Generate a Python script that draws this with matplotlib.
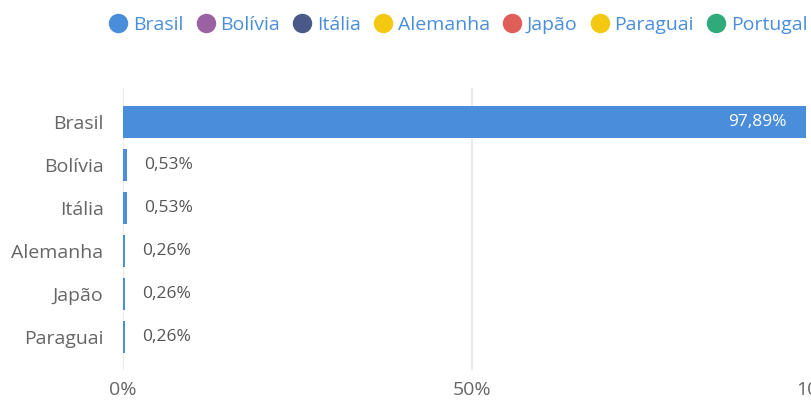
import matplotlib.pyplot as plt
from matplotlib.lines import Line2D

plt.rcParams['font.family'] = ['Open Sans', 'DejaVu Sans']

# Data
countries = ['Brasil', 'Bolívia', 'Itália', 'Alemanha', 'Japão', 'Paraguai']
shares = [97.89, 0.53, 0.53, 0.26, 0.26, 0.26]
share_labels = ['97,89%', '0,53%', '0,53%', '0,26%', '0,26%', '0,26%']

legend_names = ['Brasil', 'Bolívia', 'Itália', 'Alemanha', 'Japão', 'Paraguai', 'Portugal']
legend_colors = ['#4A8EDB', '#9B62A3', '#4A5A88', '#F2C811', '#DF5F58', '#F2C811', '#2FAB7B']

BAR = '#4A8EDB'
GREY = '#666666'

fig = plt.figure(figsize=(8.11, 4.01), dpi=100)
ax = fig.add_axes([123 / 811, 1 - 370 / 401, 698 / 811, 282 / 401])

ypos = list(range(len(countries)))
ax.barh(ypos, shares, height=0.74, color=BAR, zorder=3)
ax.set_xlim(0, 100)
ax.set_ylim(5.77, -0.79)

# Value labels
for y, v, lab in zip(ypos, shares, share_labels):
    if v > 50:
        ax.text(v - 2.8, y, lab, color='white', fontsize=12.5, va='center', ha='right', zorder=4)
    else:
        ax.text(v + 2.5, y, lab, color='#555555', fontsize=12.5, va='center', ha='left', zorder=4)

ax.set_yticks(ypos)
ax.set_yticklabels(countries, fontsize=14, color=GREY)
ax.set_xticks([0, 50, 100])
ax.set_xticklabels(['0%', '50%', '100%'], fontsize=14, color=GREY)
ax.tick_params(axis='both', length=0)
ax.tick_params(axis='y', pad=14)
ax.tick_params(axis='x', pad=8)
ax.grid(axis='x', color='#E6E6E6', linewidth=1.2, zorder=0)
for s in ax.spines.values():
    s.set_visible(False)

# Legend
handles = [Line2D([], [], marker='o', linestyle='', markersize=13, color=c) for c in legend_colors]
leg = fig.legend(handles, legend_names, loc='upper left', bbox_to_anchor=(93 / 811, 1.0),
                 ncol=7, frameon=False, fontsize=14, handletextpad=0.25,
                 columnspacing=0.65, handlelength=1.0, borderaxespad=0.4)
for t in leg.get_texts():
    t.set_color(BAR)

plt.savefig('out.png', dpi=100)
